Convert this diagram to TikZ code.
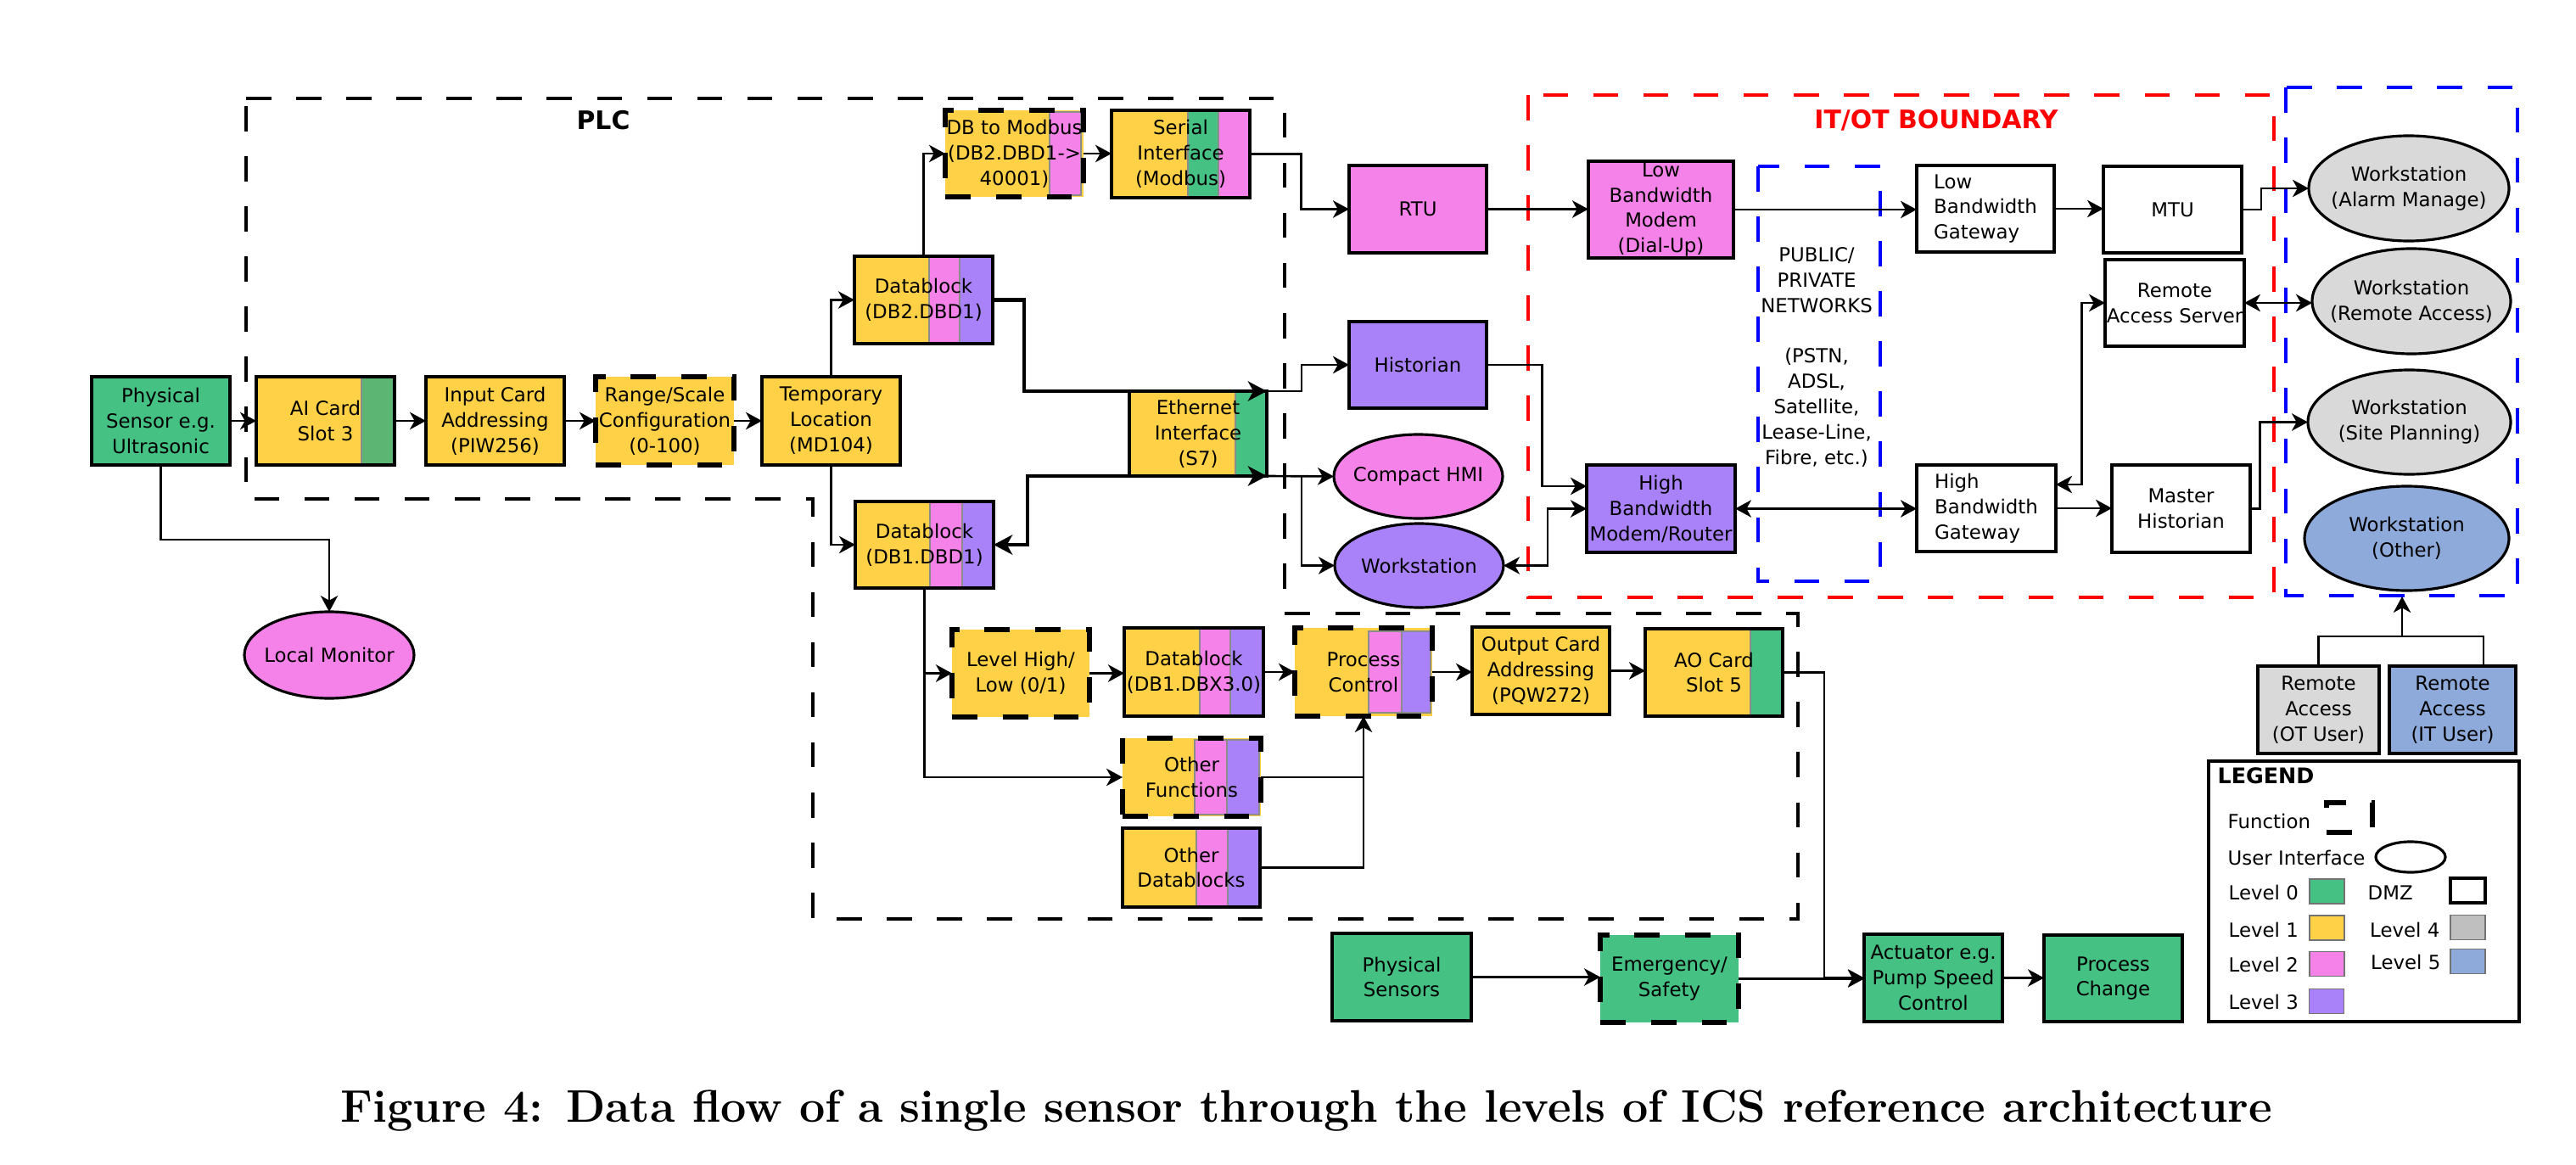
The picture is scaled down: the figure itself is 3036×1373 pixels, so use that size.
\documentclass[tikz,border=0pt]{standalone}
\usepackage{fontspec}
\newfontfamily\dvf{DejaVu Sans}
\usetikzlibrary{arrows.meta,shapes.geometric,calc}
\definecolor{lv0}{HTML}{45C184}
\definecolor{lv0b}{HTML}{5DB574}
\definecolor{lv1}{HTML}{FFD147}
\definecolor{lv2}{HTML}{F582E9}
\definecolor{lv3}{HTML}{A982FA}
\definecolor{lv4}{HTML}{BFBFBF}
\definecolor{lv4w}{HTML}{D9D9D9}
\definecolor{lv5}{HTML}{8EAADB}
\newcommand\dvtext{\fontsize{6.5pt}{8.5pt}\dvf}
\newcommand\dvbold{\fontsize{8.5pt}{10pt}\dvf\bfseries}
% name, x1, y1, x2, y2, style, text
\newcommand\mybox[7]{\node[#6,minimum width={(#4-#2)*0.01cm},minimum height={(#5-#3)*0.01cm}] (#1) at ({(#2+#4)/2},{(#3+#5)/2}) {#7};}
% name, cx, cy, w, h, style, text
\newcommand\myell[7]{\node[ell,#6,minimum width={#4*0.01cm},minimum height={#5*0.01cm},label={[lbl]center:{#7}}] (#1) at (#2,#3) {};}
\newcommand\myfill[5]{\fill[#5] (#1,#2) rectangle (#3,#4);}
\newcommand\mystripe[5]{\fill[#5,draw=black!45,line width=0.3pt] (#1,#2) rectangle (#3,#4);}
\begin{document}
\begin{tikzpicture}[x=0.01cm,y=-0.01cm,
  >={Stealth[length=5.4pt,width=5.8pt,inset=1.6pt]},
  base/.style={font=\dvtext,align=center,inner sep=0pt,outer sep=0pt},
  bx/.style={base,draw,rectangle,line width=0.9pt},
  fn/.style={base,draw,rectangle,line width=1.7pt,dash pattern=on 8.5pt off 8.5pt},
  ell/.style={base,draw,ellipse,line width=0.9pt},
  lbl/.style={font=\dvtext,align=center,inner sep=0pt},
  lgt/.style={font=\dvtext,anchor=west,inner sep=0pt},
  swatch/.style={draw=black!55,line width=0.5pt,minimum width=0.41cm,minimum height=0.29cm,inner sep=0pt,outer sep=0pt},
  ln/.style={line width=0.75pt},
  ar/.style={ln,->},
  dar/.style={ln,<->},
  tk/.style={line width=1.25pt},
  tar/.style={tk,-{Stealth[length=6.3pt,width=6.6pt,inset=1.8pt]}},
  tdar/.style={tk,{Stealth[length=6.3pt,width=6.6pt,inset=1.8pt]}-{Stealth[length=6.3pt,width=6.6pt,inset=1.8pt]}},
  zone/.style={line width=1.3pt,dash pattern=on 8.4pt off 8.4pt},
]
\fill[white] (0,0) rectangle (3036,1373);
\useasboundingbox (0,0) rectangle (3036,1373);

% ---- zones ----
\draw[zone] (290,116) -- (1514,116) -- (1514,723) -- (2119,723) -- (2119,1083) -- (958,1083) -- (958,588) -- (290,588) -- cycle;
\draw[zone,red] (1801,112) rectangle (2680,704);
\draw[zone,blue] (2694,103) rectangle (2967,702);
\draw[zone,blue] (2072,196) rectangle (2216,685);
\node[font=\dvbold] (plcT) at (711,142) {PLC};
\node[font=\dvbold,text=red] (itotT) at (2282,142) {IT/OT BOUNDARY};
\node[lbl] (netT) at (2141,421) {PUBLIC/\\PRIVATE\\NETWORKS\\[8.5pt](PSTN,\\ADSL,\\Satellite,\\Lease-Line,\\Fibre, etc.)};

% ---- row 1 ----
\mybox{ps}{108}{444}{271}{548}{bx,fill=lv0}{Physical\\Sensor e.g.\\Ultrasonic}
\myfill{302}{444}{426}{548}{lv1}\mystripe{426}{444}{465}{548}{lv0b}
\mybox{ai}{302}{444}{465}{548}{bx}{AI Card\\Slot 3}
\mybox{icard}{502}{444}{665}{548}{bx,fill=lv1}{Input Card\\Addressing\\(PIW256)}
\mybox{range}{702}{444}{865}{548}{fn,fill=lv1}{Range/Scale\\Configuration\\(0-100)}
\mybox{temp}{898}{444}{1061}{548}{bx,fill=lv1}{Temporary\\Location\\(MD104)}
\myell{lm}{388}{772}{200}{102}{fill=lv2}{Local Monitor}

% ---- datablocks ----
\myfill{1007}{302}{1170}{405}{lv1}\mystripe{1095}{302}{1131}{405}{lv2}\mystripe{1131}{302}{1170}{405}{lv3}
\mybox{db2}{1007}{302}{1170}{405}{bx}{Datablock\\(DB2.DBD1)}
\myfill{1008}{591}{1171}{693}{lv1}\mystripe{1096}{591}{1134}{693}{lv2}\mystripe{1134}{591}{1171}{693}{lv3}
\mybox{db1}{1008}{591}{1171}{693}{bx}{Datablock\\(DB1.DBD1)}
\myfill{1114}{130}{1277}{232}{lv1}\mystripe{1237}{132}{1274}{230}{lv2}
\mybox{dbm}{1114}{130}{1277}{232}{fn,inner xsep=-5pt}{DB to Modbus\\(DB2.DBD1->\\40001)}
\myfill{1310}{130}{1473}{233}{lv1}\mystripe{1400}{130}{1436}{233}{lv0}\mystripe{1436}{130}{1473}{233}{lv2}
\mybox{serial}{1310}{130}{1473}{233}{bx}{Serial\\Interface\\(Modbus)}
\myfill{1331}{461}{1493}{561}{lv1}\mystripe{1456}{461}{1493}{561}{lv0}
\mybox{eth}{1331}{461}{1493}{561}{bx}{Ethernet\\Interface\\(S7)}

% ---- level 2/3 ----
\mybox{rtu}{1590}{195}{1752}{298}{bx,fill=lv2}{RTU}
\mybox{hist}{1590}{379}{1752}{481}{bx,fill=lv3}{Historian}
\myell{hmi}{1671.5}{561.5}{199}{99}{fill=lv2}{Compact HMI}
\myell{ws}{1672.5}{666.5}{199}{99}{fill=lv3}{Workstation}
\mybox{lbm}{1872}{190}{2043}{304}{bx,fill=lv2,inner ysep=-2pt}{Low\\Bandwidth\\Modem\\(Dial-Up)}
\mybox{hbm}{1870}{548}{2045}{651}{bx,fill=lv3}{High\\Bandwidth\\Modem/Router}

% ---- DMZ ----
\mybox{lbg}{2259}{195}{2421}{297}{bx,fill=white,align=left}{Low\\Bandwidth\\Gateway}
\mybox{hbg}{2259}{548}{2423}{650}{bx,fill=white,align=left}{High\\Bandwidth\\Gateway}
\mybox{mtu}{2479}{196}{2642}{298}{bx,fill=white}{MTU}
\mybox{ras}{2481}{306}{2645}{408}{bx,fill=white}{Remote\\Access Server}
\mybox{mh}{2489}{548}{2652}{651}{bx,fill=white}{Master\\Historian}

% ---- level 4/5 ----
\myell{wsA}{2839}{222}{236}{124}{fill=lv4w}{Workstation\\(Alarm Manage)}
\myell{wsR}{2842}{355}{234}{124}{fill=lv4w}{Workstation\\(Remote Access)}
\myell{wsS}{2839.5}{497.5}{239}{123}{fill=lv4w}{Workstation\\(Site Planning)}
\myell{wsO}{2836.5}{634.5}{241}{123}{fill=lv5}{Workstation\\(Other)}
\mybox{raOT}{2661}{785}{2804}{888}{bx,fill=lv4w}{Remote\\Access\\(OT User)}
\mybox{raIT}{2816}{785}{2965}{888}{bx,fill=lv5}{Remote\\Access\\(IT User)}

% ---- lower PLC ----
\mybox{lvl}{1122}{742}{1284}{845}{fn,fill=lv1}{Level High/\\Low (0/1)}
\myfill{1325}{740}{1489}{844}{lv1}\mystripe{1414}{740}{1450}{844}{lv2}\mystripe{1450}{740}{1489}{844}{lv3}
\mybox{dbx}{1325}{740}{1489}{844}{bx}{Datablock\\(DB1.DBX3.0)}
\myfill{1526}{740}{1688}{844}{lv1}\mystripe{1613}{744}{1652}{840}{lv2}\mystripe{1652}{744}{1686}{840}{lv3}
\mybox{pc}{1526}{740}{1688}{844}{fn}{Process\\Control}
\mybox{oc}{1735}{739}{1897}{842}{bx,fill=lv1}{Output Card\\Addressing\\(PQW272)}
\myfill{1939}{741}{2101}{844}{lv1}\mystripe{2063}{741}{2101}{844}{lv0}
\mybox{ao}{1939}{741}{2101}{844}{bx}{AO Card\\Slot 5}
\myfill{1323}{870}{1486}{962}{lv1}\mystripe{1408}{872}{1446}{960}{lv2}\mystripe{1446}{872}{1484}{960}{lv3}
\mybox{of}{1323}{870}{1486}{962}{fn}{Other\\Functions}
\myfill{1323}{976}{1485}{1069}{lv1}\mystripe{1410}{976}{1447}{1069}{lv2}\mystripe{1447}{976}{1485}{1069}{lv3}
\mybox{od}{1323}{976}{1485}{1069}{bx}{Other\\Datablocks}

% ---- level 0 bottom ----
\mybox{psen}{1570}{1100}{1734}{1203}{bx,fill=lv0}{Physical\\Sensors}
\mybox{es}{1886}{1102}{2049}{1205}{fn,fill=lv0}{Emergency/\\Safety}
\mybox{act}{2197}{1101}{2360}{1204}{bx,fill=lv0}{Actuator e.g.\\Pump Speed\\Control}
\mybox{pcg}{2409}{1102}{2572}{1204}{bx,fill=lv0}{Process\\Change}

% ---- legend ----
\mybox{leg}{2603}{897}{2969}{1204}{bx,fill=white}{}
\node[lgt,font=\fontsize{7.2pt}{9pt}\dvf\bfseries] (legT) at (2613,914) {LEGEND};
\node[lgt] (lgF) at (2625,968) {Function};
\mybox{symF}{2742}{946}{2796}{981}{fn}{}
\node[lgt] (lgU) at (2625,1011) {User Interface};
\node[ell,minimum width=0.82cm,minimum height=0.36cm] (symU) at (2841,1010) {};
\node[lgt] (lg0) at (2626,1052) {Level 0};
\node[swatch,fill=lv0] (sw0) at (2742.5,1050.5) {};
\node[lgt] (lgD) at (2790,1052) {DMZ};
\node[swatch,fill=white,draw=black,line width=1.3pt] (swD) at (2908.5,1049.5) {};
\node[lgt] (lg1) at (2626,1096) {Level 1};
\node[swatch,fill=lv1] (sw1) at (2742.5,1093.5) {};
\node[lgt] (lg4) at (2792.5,1096) {Level 4};
\node[swatch,fill=lv4] (sw4) at (2908.5,1093) {};
\node[lgt] (lg2) at (2626,1137) {Level 2};
\node[swatch,fill=lv2] (sw2) at (2742.5,1136) {};
\node[lgt] (lg5) at (2793.5,1134) {Level 5};
\node[swatch,fill=lv5] (sw5) at (2908.5,1133) {};
\node[lgt] (lg3) at (2626,1181) {Level 3};
\node[swatch,fill=lv3] (sw3) at (2742,1180) {};

% ---- connectors ----
\draw[ar] (ps.east) -- (ai.west);
\draw[ar] (ai.east) -- (icard.west);
\draw[ar] (icard.east) -- (range.west);
\draw[ar] (range.east) -- (temp.west);
\draw[ar] (ps.south) -- ++(0,88) -| (lm.north);
\draw[ar] (temp.north) |- (db2.west);
\draw[ar] (temp.south) |- (db1.west);
\draw[ar] (db2.north) |- (dbm.west);
\draw[ar] (dbm.east) -- (dbm.east -| serial.west);
\draw[ar] (serial.east) -- ++(60.5,0) |- (rtu.west);
\draw[tar] (db2.east) -- ++(37,0) |- (eth.north east);
\draw[ar] (eth.north east) -- ++(41,0) |- (hist.west);
\draw[tdar] (db1.east) -- ++(40,0) |- (eth.south east);
\draw[ar] (eth.south east) -- (hmi.west);
\draw[ar] (eth.south east) -- ++(41,0) |- (ws.west);
\draw[ar] (hist.east) -- ++(65.6,0) |- ($(hbm.west)+(0,-26.5)$);
\draw[dar] (ws.east) -- ++(52,0) |- (hbm.west);
\draw[ar] (rtu.east) -- (rtu.east -| lbm.west);
\draw[ar] (lbm.east) -- (lbm.east -| lbg.west);
\draw[dar] (hbm.east) -- (hbm.east -| hbg.west);
\draw[ar] (lbg.east) -- (lbg.east -| mtu.west);
\draw[ar] (hbg.east) -- (hbg.east -| mh.west);
\draw[dar] ($(hbg.east)+(0,-28)$) -- ++(30.5,0) |- (ras.west);
\draw[ar] (mtu.east) -- ++(23,0) |- (wsA.west);
\draw[dar] (ras.east) -- (ras.east -| wsR.west);
\draw[ar] (mh.east) -- ++(11.5,0) |- (wsS.west);
\draw[ln] (raOT.north) -- ++(0,-35) -| ($(raIT.north)+(36.5,0)$);
\coordinate (jn) at (2831,750);
\coordinate (tipO) at (2831,703);
\draw[ar] (jn) -- (tipO);
\draw[ar] (db1.south) |- (lvl.west);
\draw[ar] (db1.south) |- (of.west);
\draw[ar] (lvl.east) -- (lvl.east -| dbx.west);
\draw[ar] (dbx.east) -- (dbx.east -| pc.west);
\draw[ar] (pc.east) -- (pc.east -| oc.west);
\draw[ar] (oc.east) -- (oc.east -| ao.west);
\draw[ar] (of.east) -| (pc.south);
\draw[ln] (od.east) -| (of.east -| pc.south);
\draw[ar] (ao.east) -- ++(49,0) |- (act.west);
\draw[ar] (psen.east) -- (psen.east -| es.west);
\draw[ar] (es.east) -- (es.east -| act.west);
\draw[ar] (act.east) -- (act.east -| pcg.west);

% ---- caption ----
\node[font=\fontsize{15.3pt}{18pt}\selectfont\bfseries,inner sep=0pt] (cap) at (1540,1309) {Figure 4: Data flow of a single sensor through the levels of ICS reference architecture};
\end{tikzpicture}
\end{document}
